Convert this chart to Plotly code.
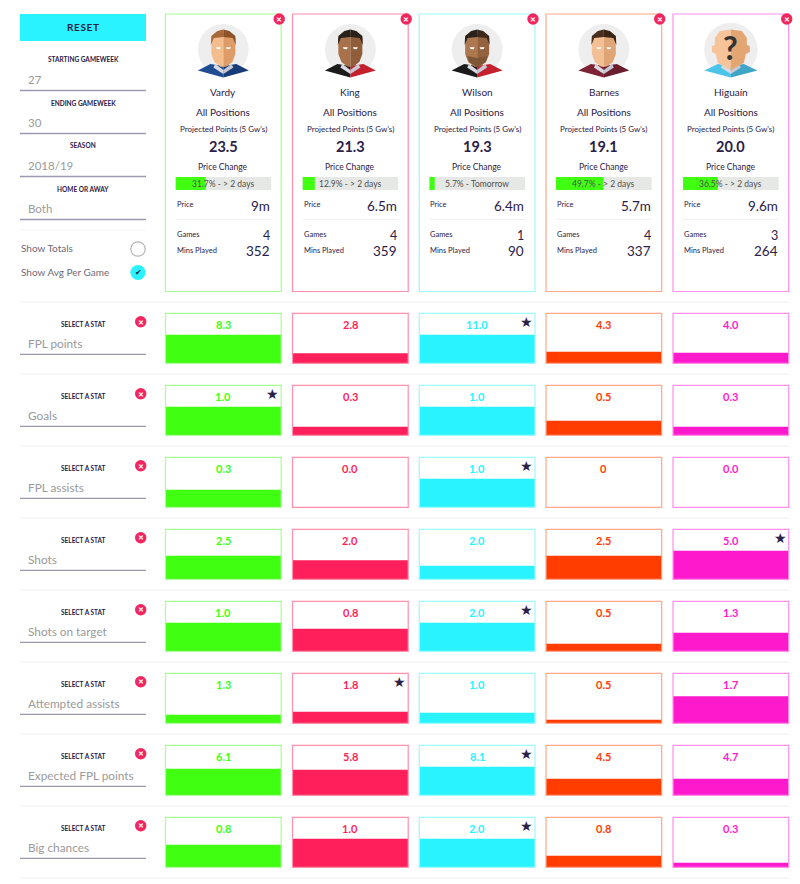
import plotly.graph_objects as go

W, H = 800, 884
FONT = "Lato"
DARK = "#2b2048"
GREY = "#9a9a9a"
LINE = "#9c99b0"

# player cards
players = ["Vardy", "King", "Wilson", "Barnes", "Higuaín"]
projected = ["23.5", "21.3", "19.3", "19.1", "20.0"]
price_pct = [31.7, 12.9, 5.7, 49.7, 36.5]
price_when = ["> 2 days", "> 2 days", "Tomorrow", "> 2 days", "> 2 days"]
prices = ["9m", "6.5m", "6.4m", "5.7m", "9.6m"]
games = ["4", "4", "1", "4", "3"]
mins_played = ["352", "359", "90", "337", "264"]

# stat rows
stats = ["FPL points", "Goals", "FPL assists", "Shots", "Shots on target",
         "Attempted assists", "Expected FPL points", "Big chances"]
stat_labels = [
    ["8.3", "2.8", "11.0", "4.3", "4.0"],
    ["1.0", "0.3", "1.0", "0.5", "0.3"],
    ["0.3", "0.0", "1.0", "0", "0.0"],
    ["2.5", "2.0", "2.0", "2.5", "5.0"],
    ["1.0", "0.8", "2.0", "0.5", "1.3"],
    ["1.3", "1.8", "1.0", "0.5", "1.7"],
    ["6.1", "5.8", "8.1", "4.5", "4.7"],
    ["0.8", "1.0", "2.0", "0.8", "0.3"],
]
# how full each box is, percent of box height
stat_fill = [
    [57, 20, 57, 23, 21],
    [57, 17, 57, 29, 17],
    [35, 0, 57, 0, 0],
    [47, 38, 27, 47, 57],
    [57, 45, 57, 15, 37],
    [17, 23, 21, 7, 54],
    [53, 51, 57, 33, 33],
    [45, 57, 57, 23, 9],
]
# column holding the star in each row
star_col = [2, 0, 2, 4, 2, 1, 2, 2]

fill_colors = ["#40ff10", "#ff1f5a", "#29f3ff", "#ff3d00", "#ff19cc"]
border_colors = ["#a6ff92", "#ff8fab", "#9cf9ff", "#ffa98a", "#ff90ea"]

col_left = [165.5, 292.5, 419.3, 546.0, 673.0]
col_width = 115.7
row_top = [313.3 + 72 * i for i in range(8)]
row_height = 50


def px(x):
    return x / W


def py(y):
    return 1 - y / H


annotations = []
shapes = []


def text(x, y, s, size, color=DARK, anchor="center", bold=False):
    annotations.append(dict(
        x=px(x), y=py(y - 0.7), xref="paper", yref="paper", text=f"<b>{s}</b>" if bold else s,
        showarrow=False, xanchor=anchor, yanchor="middle", borderpad=0,
        font=dict(family=FONT, size=size, color=color),
    ))


def rect(x0, y0, x1, y1, fill=None, line=None, width=1, layer="above"):
    shapes.append(dict(
        type="rect", xref="paper", yref="paper", x0=px(x0), x1=px(x1), y0=py(y0), y1=py(y1),
        fillcolor=fill or "rgba(0,0,0,0)", line=dict(color=line or "rgba(0,0,0,0)", width=width if line else 0),
        layer=layer,
    ))


def hline(x0, x1, y, color, width=1):
    shapes.append(dict(type="line", xref="paper", yref="paper", x0=px(x0), x1=px(x1),
                       y0=py(y), y1=py(y), line=dict(color=color, width=width), layer="below"))


def circle(cx, cy, r, fill=None, line=None, width=1):
    shapes.append(dict(
        type="circle", xref="paper", yref="paper", x0=px(cx - r), x1=px(cx + r), y0=py(cy + r), y1=py(cy - r),
        fillcolor=fill or "rgba(0,0,0,0)", line=dict(color=line or "rgba(0,0,0,0)", width=width if line else 0),
        layer="above",
    ))


def poly(points, fill):
    d = "M " + " L ".join(f"{px(x):.5f},{py(y):.5f}" for x, y in points) + " Z"
    shapes.append(dict(type="path", xref="paper", yref="paper", path=d, fillcolor=fill,
                       line=dict(width=0), layer="above"))


def close_button(cx, cy):
    circle(cx, cy, 5.7, fill="#f2255f")
    text(cx, cy + 0.4, "✕", 7, "#ffffff", bold=True)


def avatar(cx, skin_l, skin_r, hair_l, hair_r, shirt_l, shirt_r, beard=None, bald=False):
    cy = 49.5
    circle(cx, cy, 26.7 if bald else 25.4, fill="#eeeeee")
    half = 26.5 if bald else 25.5
    # shirt
    poly([(cx - half, 70.5), (cx - 13, 64), (cx, 66), (cx, 77.5)], shirt_l)
    poly([(cx + half, 70.5), (cx + 13, 64), (cx, 66), (cx, 77.5)], shirt_r)
    poly([(cx - 8, 64), (cx, 70), (cx, 74), (cx - 10, 67.5)], "#d9d9e2")
    poly([(cx + 8, 64), (cx, 70), (cx, 74), (cx + 10, 67.5)], "#c8c8d4")
    if bald:
        poly([(cx - 16, 38), (cx - 11, 31), (cx, 29.5), (cx, 70), (cx - 13, 63), (cx - 15, 54),
              (cx - 19, 52), (cx - 19, 46), (cx - 16, 45)], skin_l)
        poly([(cx + 16, 38), (cx + 11, 31), (cx, 29.5), (cx, 70), (cx + 13, 63), (cx + 15, 54),
              (cx + 19, 52), (cx + 19, 46), (cx + 16, 45)], skin_r)
        text(cx, 48.5, "?", 32, "#333333", bold=True)
        return
    # head
    poly([(cx - 12, 38), (cx - 12, 54), (cx - 9, 62), (cx - 3, 66.5), (cx, 67), (cx, 33)], skin_l)
    poly([(cx + 12, 38), (cx + 12, 54), (cx + 9, 62), (cx + 3, 66.5), (cx, 67), (cx, 33)], skin_r)
    if beard:
        poly([(cx - 10, 56), (cx - 8, 62), (cx, 67), (cx + 8, 62), (cx + 10, 56), (cx, 58)], beard)
    # hair
    poly([(cx - 12.5, 45), (cx - 12, 36), (cx - 6, 31), (cx, 29.5), (cx, 37), (cx - 9.5, 38)], hair_l)
    poly([(cx + 12.5, 45), (cx + 12, 36), (cx + 6, 31), (cx, 29.5), (cx, 37), (cx + 9.5, 38)], hair_r)
    # eyes
    poly([(cx - 7.5, 47.3), (cx - 2.5, 47.3), (cx - 3.5, 49.3), (cx - 6.5, 49.1)], "#ffffff")
    poly([(cx + 7.5, 47.3), (cx + 2.5, 47.3), (cx + 3.5, 49.3), (cx + 6.5, 49.1)], "#ffffff")


data = []
layout_axes = {}
axis_no = 0


def axis_pair(x0, x1, y0, y1, xrange, yrange):
    global axis_no
    axis_no += 1
    suffix = "" if axis_no == 1 else str(axis_no)
    hidden = dict(visible=False, fixedrange=True)
    layout_axes[f"xaxis{suffix}"] = dict(domain=[px(x0), px(x1)], range=xrange, anchor=f"y{suffix}", **hidden)
    layout_axes[f"yaxis{suffix}"] = dict(domain=[py(y1), py(y0)], range=yrange, anchor=f"x{suffix}", **hidden)
    return f"x{suffix}", f"y{suffix}"


# left filter panel
rect(20, 14, 146, 41, fill="#29f3ff")
text(83, 28, "R\u200aE\u200aS\u200aE\u200aT", 10, DARK, bold=True)
filters = [("STARTING GAMEWEEK", "27", 60), ("ENDING GAMEWEEK", "30", 103),
           ("SEASON", "2018/19", 146), ("HOME OR AWAY", "Both", 189)]
for label, value, y in filters:
    text(83, y + 0.7, label, 6.5, DARK, bold=True)
    text(27, y + 20, value, 11.5, GREY, anchor="left")
    hline(20, 146, y + 30.5, LINE, 1.3)
hline(20, 146, 230, "#f5f5f5", 1)
text(20, 249, "Show Totals", 10, "#6d6a7c", anchor="left")
circle(138, 249, 7.2, line="#b5b5b5", width=1.2)
text(20, 272.5, "Show Avg Per Game", 10, "#6d6a7c", anchor="left")
circle(138, 272.5, 7.6, fill="#29f3ff")
text(138, 273, "✔", 8, DARK)

# player cards
faces = [
    ("#f3bd8e", "#dd9c68", "#a9683a", "#8c5228", "#1f4d92", "#173c78", None, False),
    ("#a8714a", "#8f5d3a", "#2b211b", "#2b211b", "#1b1b1b", "#c4202e", None, False),
    ("#ad7850", "#94623e", "#2b211b", "#3d2a1c", "#1b1b1b", "#c4202e", "#7e5636", False),
    ("#f3c095", "#e0a577", "#4a2f1e", "#3a2415", "#7d2336", "#6c1d2d", None, False),
    ("#f7c49a", "#e3a673", None, None, "#4cc4ea", "#3ea5c9", None, True),
]
for c, name in enumerate(players):
    left = col_left[c]
    right = left + col_width
    mid = left + col_width / 2
    inner_l = left + 10
    inner_r = right - 10
    rect(left, 14, right, 291.5, line=border_colors[c], width=1.2)
    close_button(right - 2, 19)
    avatar(mid, *faces[c])
    text(mid, 93, name, 10)
    text(mid, 113, "All Positions", 10)
    text(mid, 130, "Projected Points (5 Gw's)", 8)
    text(mid, 147.5, projected[c], 14.5, bold=True)
    text(mid, 167.5, "Price Change", 8.5)
    # price change bar
    rect(inner_l, 177, inner_r, 190, fill="#e6e8e6", layer="below")
    xa, ya = axis_pair(inner_l, inner_r, 177, 190, [0, 100], [-0.5, 0.5])
    data.append(go.Bar(x=[price_pct[c]], y=[0], orientation="h", width=1, xaxis=xa, yaxis=ya,
                       marker=dict(color="#40ff10", line=dict(width=0)), hoverinfo="skip", showlegend=False))
    text(mid, 184.7, f"{price_pct[c]}% - {price_when[c]}", 8.5, "#4e4e4e")
    text(inner_l, 205.5, "Price", 7.5, anchor="left")
    text(inner_r, 206.5, prices[c], 13.5, anchor="right")
    hline(inner_l, inner_r, 219.5, "#f1f1f1", 1)
    text(inner_l, 235.5, "Games", 7.5, anchor="left")
    text(inner_r, 236.5, games[c], 12.5, anchor="right")
    text(inner_l, 251, "Mins Played", 7.5, anchor="left")
    text(inner_r, 251.5, mins_played[c], 13.5, anchor="right")

# stat rows
hline(20, 789, 302, "#f5f5f5", 1.5)
for r, stat in enumerate(stats):
    top = row_top[r]
    bottom = top + row_height
    text(83, top + 11.7, "SELECT A STAT", 6.5, DARK, bold=True)
    text(27, top + 31, stat, 11.8, GREY, anchor="left")
    hline(20, 146, top + 41, LINE, 1.3)
    close_button(140.7, top + 8.5)
    hline(20, 789, top + 60.7, "#f5f5f5", 1.5)
    for c in range(5):
        left = col_left[c]
        right = left + col_width
        xa, ya = axis_pair(left, right, top, bottom, [-0.5, 0.5], [0, 100])
        data.append(go.Bar(x=[0], y=[stat_fill[r][c]], width=1, xaxis=xa, yaxis=ya,
                           marker=dict(color=fill_colors[c], line=dict(width=0)),
                           hoverinfo="skip", showlegend=False))
        rect(left, top, right, bottom, line=border_colors[c], width=1.2)
        text(left + col_width / 2, top + 12.3, stat_labels[r][c], 11, fill_colors[c], bold=True)
        if star_col[r] == c:
            text(right - 8.3, top + 8.5, "★", 14, DARK)

fig = go.Figure(data=data)
fig.update_layout(
    width=W, height=H, margin=dict(l=0, r=0, t=0, b=0),
    paper_bgcolor="#ffffff", plot_bgcolor="rgba(0,0,0,0)",
    shapes=shapes, annotations=annotations, showlegend=False,
    **layout_axes,
)
fig.write_html("out.html", config={"displayModeBar": False},
               post_script="document.body.style.margin='0';")
